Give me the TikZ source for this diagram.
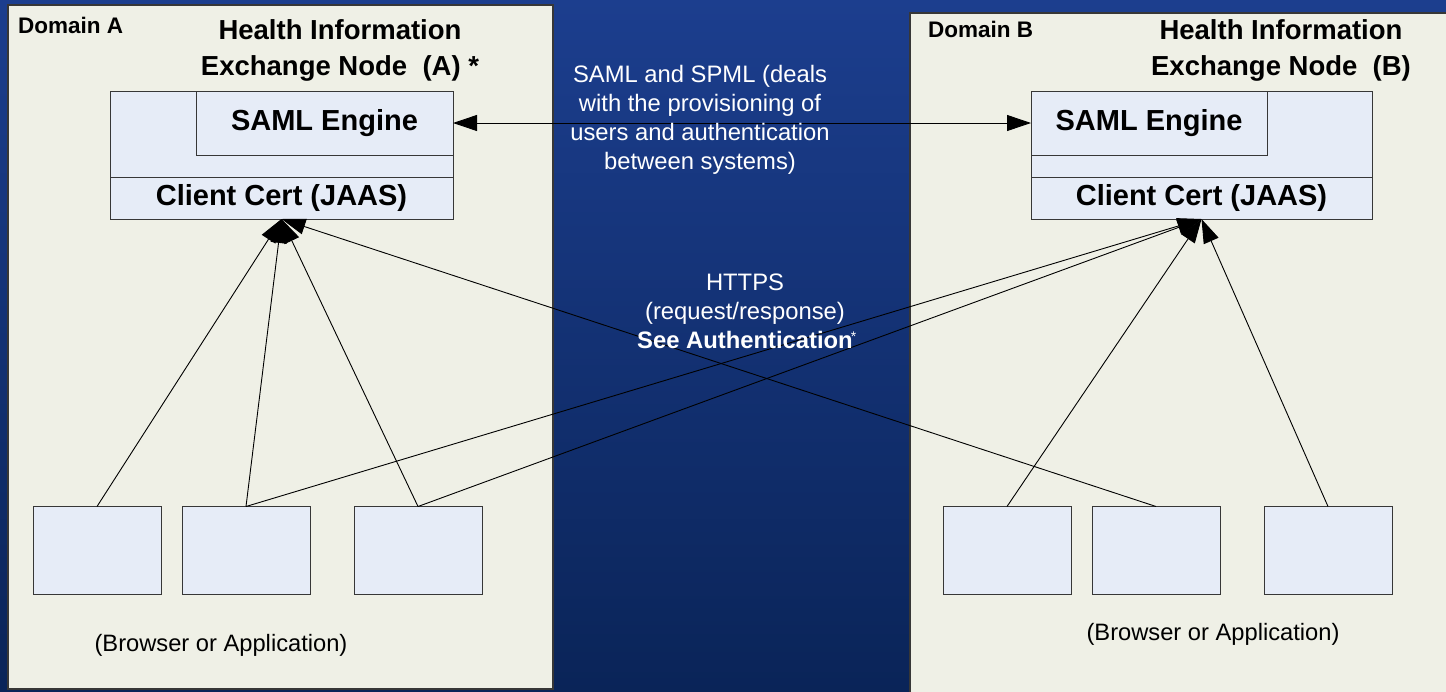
\documentclass[tikz,border=0pt]{standalone}
\usepackage{fontspec}
\setmainfont{Liberation Sans}
\usetikzlibrary{arrows.meta}
\definecolor{bgtop}{RGB}{28,62,142}
\definecolor{bgbot}{RGB}{10,36,88}
\definecolor{panelfill}{RGB}{239,240,230}
\definecolor{boxfill}{RGB}{230,236,247}
\definecolor{edgegray}{RGB}{55,55,55}
\begin{document}
\begin{tikzpicture}[x=1pt,y=-1pt,
  panel/.style={draw=edgegray, line width=1.5pt, fill=panelfill, inner sep=0pt, outer sep=0pt},
  box/.style={draw=edgegray, line width=1pt, fill=boxfill, inner sep=0pt, outer sep=0pt},
  conn/.style={draw=black, line width=0.9pt, -{Triangle[length=24pt,width=16pt]}},
  dual/.style={draw=black, line width=0.9pt, {Triangle[length=24pt,width=16pt]}-{Triangle[length=24pt,width=16pt]}},
  domlabel/.style={font=\fontsize{22.5}{26}\selectfont\bfseries, inner sep=0pt, anchor=west},
  heading/.style={font=\fontsize{27.5}{36}\selectfont\bfseries, align=center, inner sep=0pt},
  boxtext/.style={font=\fontsize{29}{32}\selectfont\bfseries},
  midtext/.style={font=\fontsize{23.8}{29}\selectfont, text=white, align=center, inner sep=0pt},
  plaintext/.style={font=\fontsize{23.7}{29}\selectfont, inner sep=0pt}
]
\clip (0,0) rectangle (1446,691);
\shade[top color=bgtop, bottom color=bgbot] (0,0) rectangle (1446,691);

% domain panels
\node[panel, minimum width=545pt, minimum height=684pt] (domA) at (280.5,347) {};
\node[panel, minimum width=560pt, minimum height=700pt] (domB) at (1190,363) {};

% node A
\node[box, minimum width=343pt, minimum height=128pt] (outerA) at (281.5,155) {};
\node[box, minimum width=257pt, minimum height=64pt] (samlA) at (324.5,123) {};
\node[box, minimum width=343pt, minimum height=42pt] (ccA) at (281.5,198) {};
\node[boxtext] (samlAt) at (samlA.center) {SAML Engine};
\node[boxtext] (ccAt) at (ccA.center) {Client Cert (JAAS)};

% node B
\node[box, minimum width=341pt, minimum height=128pt] (outerB) at (1201.5,155) {};
\node[box, minimum width=236pt, minimum height=64pt] (samlB) at (1149,123) {};
\node[box, minimum width=341pt, minimum height=42pt] (ccB) at (1201.5,198) {};
\node[boxtext] (samlBt) at (samlB.center) {SAML Engine};
\node[boxtext] (ccBt) at (ccB.center) {Client Cert (JAAS)};

% application boxes
\foreach \n/\x in {a1/97, a2/246, a3/418, b1/1007, b2/1156, b3/1328}
  \node[box, minimum width=128pt, minimum height=88pt] (\n) at (\x,550.5) {};

% connectors
\draw[conn] (a1.north) -- (ccA.south);
\draw[conn] (a2.north) -- (ccA.south);
\draw[conn] (a3.north) -- (ccA.south);
\draw[conn] (b2.north) -- (ccA.south);
\draw[conn] (a2.north) -- (ccB.south);
\draw[conn] (a3.north) -- (ccB.south);
\draw[conn] (b1.north) -- (ccB.south);
\draw[conn] (b3.north) -- (ccB.south);
\draw[dual] (samlA.east) -- (samlB.west);

% labels
\node[domlabel] (domAt) at (18,25) {Domain A};
\node[domlabel] (domBt) at (928,29) {Domain B};
\node[heading] (headA) at (340,50) {Health Information\\Exchange Node\ \ (A) *};
\node[heading] (headB) at (1281,50) {Health Information\\Exchange Node\ \ (B)};
\node[midtext] (saml) at (700,119.5) {SAML and SPML (deals\\with the provisioning of\\users and authentication\\between systems)};
\node[midtext] (https) at (745,311) {HTTPS\\(request/response)\\\textbf{See Authentication}\rlap{\kern-2pt\raisebox{0.5ex}{\fontsize{14}{14}\selectfont *}}};
\node[plaintext] (brA) at (221,645) {(Browser or Application)};
\node[plaintext] (brB) at (1213,634) {(Browser or Application)};
\end{tikzpicture}
\end{document}
